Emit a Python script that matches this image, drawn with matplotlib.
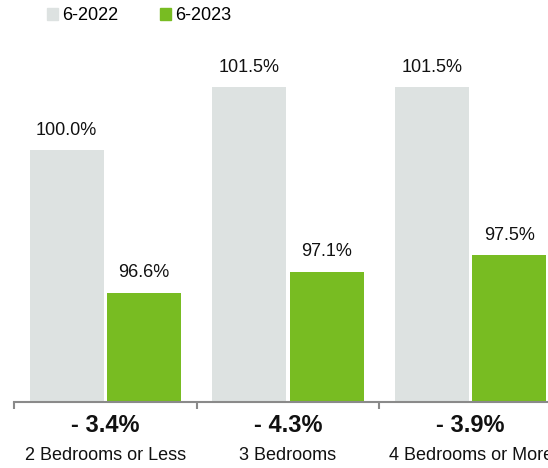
import matplotlib
matplotlib.use("Agg")
import matplotlib.pyplot as plt
from matplotlib.patches import Patch
import numpy as np

plt.rcParams['font.family'] = ['Liberation Sans', 'DejaVu Sans']

categories = ["2 Bedrooms or Less", "3 Bedrooms", "4 Bedrooms or More"]
series_names = ["6-2022", "6-2023"]
vals_2022 = [100.0, 101.5, 101.5]
vals_2023 = [96.6, 97.1, 97.5]
changes = ["- 3.4%", "- 4.3%", "- 3.9%"]

gray = "#dde2e1"
green = "#78bc22"

fig = plt.figure(figsize=(5.48, 4.68), dpi=100)
# axes run slightly past the right edge so the last group is clipped
ax = fig.add_axes([14 / 548, 66 / 468, 548 / 548, 362 / 468])

x = np.arange(len(categories))
w = 0.405
off = 0.212
b1 = ax.bar(x - off, vals_2022, w, color=gray, zorder=2)
b2 = ax.bar(x + off, vals_2023, w, color=green, zorder=2)

for bars, vals in ((b1, vals_2022), (b2, vals_2023)):
    for r, v in zip(bars, vals):
        ax.annotate(f"{v:.1f}%", (r.get_x() + r.get_width() / 2, v),
                    xytext=(0, 20), textcoords="offset pixels",
                    ha="center", va="center", fontsize=13, color="#111111")

ax.set_ylim(94, 94 + 362 / 42)
ax.set_xlim(-0.5, 2.5)

for s in ("top", "right", "left"):
    ax.spines[s].set_visible(False)
ax.spines["bottom"].set_color("#8a8a8a")
ax.spines["bottom"].set_linewidth(1.5)
ax.set_yticks([])
ax.set_xticks([-0.5, 0.5, 1.5, 2.5])
ax.set_xticklabels([])
ax.tick_params(axis="x", length=5, width=1.5, color="#8a8a8a", direction="out")

# change and category labels under each group
for i, (c, ch) in enumerate(zip(categories, changes)):
    ax.annotate(ch, (i, 0), xycoords=("data", "axes fraction"),
                xytext=(0, -23), textcoords="offset pixels", ha="center",
                va="center", fontsize=17, fontweight="bold", color="#111111",
                annotation_clip=False)
    ax.annotate(c, (i, 0), xycoords=("data", "axes fraction"),
                xytext=(0, -53), textcoords="offset pixels", ha="center",
                va="center", fontsize=13, color="#111111",
                annotation_clip=False)

handles = [Patch(color=gray), Patch(color=green)]
fig.legend(handles, series_names, loc="upper left", bbox_to_anchor=(40 / 548, 1.0),
           ncol=2, frameon=False, fontsize=13, handlelength=0.6, handleheight=0.6,
           handletextpad=0.25, columnspacing=2.3, borderaxespad=0)

fig.savefig("out.png", dpi=100)
